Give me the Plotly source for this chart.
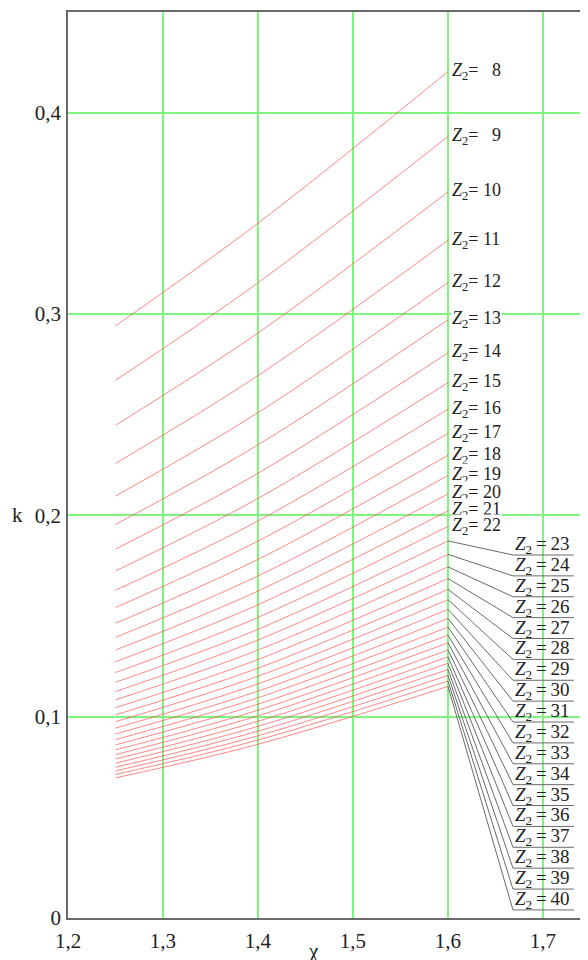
import plotly.graph_objects as go

# ---- data ----
z2 = [8, 9, 10, 11, 12, 13, 14, 15, 16, 17, 18, 19, 20, 21, 22, 23, 24,
      25, 26, 27, 28, 29, 30, 31, 32, 33, 34, 35, 36, 37, 38, 39, 40]
chi = [1.25, 1.4, 1.6]
k_at_125 = [0.2941, 0.2671, 0.2447, 0.2258, 0.2096, 0.1955, 0.1832, 0.1724,
            0.1628, 0.1542, 0.1464, 0.1394, 0.1331, 0.1273, 0.1219, 0.1171,
            0.1125, 0.1084, 0.1045, 0.1009, 0.0975, 0.0943, 0.0914, 0.0886,
            0.0860, 0.0835, 0.0812, 0.0790, 0.0769, 0.0749, 0.0731, 0.0713,
            0.0696]
k_at_140 = [0.3451, 0.3155, 0.2906, 0.2694, 0.2510, 0.2350, 0.2209, 0.2084,
            0.1972, 0.1872, 0.1781, 0.1699, 0.1624, 0.1556, 0.1493, 0.1434,
            0.1381, 0.1331, 0.1284, 0.1241, 0.1201, 0.1163, 0.1127, 0.1094,
            0.1062, 0.1032, 0.1004, 0.0977, 0.0952, 0.0928, 0.0905, 0.0884,
            0.0863]
k_at_160 = [0.4204, 0.3882, 0.3606, 0.3366, 0.3156, 0.2971, 0.2807, 0.2659,
            0.2527, 0.2407, 0.2298, 0.2198, 0.2106, 0.2022, 0.1945, 0.1873,
            0.1806, 0.1744, 0.1686, 0.1632, 0.1581, 0.1533, 0.1488, 0.1445,
            0.1405, 0.1367, 0.1331, 0.1297, 0.1265, 0.1234, 0.1205, 0.1177,
            0.1150]
x_tickvals = [1.2, 1.3, 1.4, 1.5, 1.6, 1.7]
x_ticktext = ["1,2", "1,3", "1,4", "1,5", "1,6", "1,7"]
y_tickvals = [0, 0.1, 0.2, 0.3, 0.4]
y_ticktext = ["0", "0,1", "0,2", "0,3", "0,4"]

# ---- styling / layout constants ----
SERIF = "Liberation Serif"
RED = "rgba(255,70,70,0.65)"
GREEN = "#7ff57f"
GREY = "#6a6a6a"
TXT = "#222"
FIRST_BOXED = 23          # from this Z2 on, labels sit in the boxed column
COL_X0, COL_X1 = 1.6684, 1.7326
COL_TOP, COL_STEP = 0.1803, 0.01037
THIN = "\u2009"

fig = go.Figure()

for i, z in enumerate(z2):
    ys = [k_at_125[i], k_at_140[i], k_at_160[i]]
    fig.add_trace(go.Scatter(
        x=chi, y=ys, mode="lines",
        line=dict(color=RED, width=1, shape="spline"),
        hoverinfo="skip", showlegend=False))

# white column behind the boxed labels (hides the grid there)
n_boxed = len([z for z in z2 if z >= FIRST_BOXED])
fig.add_shape(type="rect", xref="x", yref="y",
              x0=COL_X0, x1=COL_X1 + 0.004,
              y0=COL_TOP - (n_boxed - 1) * COL_STEP - 0.001, y1=COL_TOP + 0.011,
              fillcolor="white", line=dict(width=0), layer="below")

for i, z in enumerate(z2):
    end_k = k_at_160[i]
    if z < FIRST_BOXED:
        num = ("&nbsp;&nbsp;&nbsp;" + str(z)) if z < 10 else (" " + str(z))
        fig.add_annotation(
            x=chi[-1], y=end_k, xref="x", yref="y",
            text="<i>Z</i><sub>2</sub>=" + num,
            showarrow=False, xanchor="left", yanchor="middle", xshift=3,
            font=dict(family=SERIF, size=18, color=TXT),
            bgcolor="white", borderpad=0)
    else:
        j = z - FIRST_BOXED
        uy = COL_TOP - j * COL_STEP
        fig.add_trace(go.Scatter(
            x=[chi[-1], COL_X0, COL_X1], y=[end_k, uy, uy], mode="lines",
            line=dict(color=GREY, width=1), hoverinfo="skip", showlegend=False))
        fig.add_annotation(
            x=COL_X0, y=uy, xref="x", yref="y",
            text="<i>Z</i><sub>2</sub>" + THIN + "=" + THIN + str(z),
            showarrow=False, xanchor="left", yanchor="bottom", xshift=1, yshift=-3,
            font=dict(family=SERIF, size=19, color=TXT), borderpad=0)

# axis titles
fig.add_annotation(x=-0.098, xref="paper", y=0.2, yref="y", text="k",
                   showarrow=False, xanchor="center",
                   font=dict(family=SERIF, size=21, color=TXT))
fig.add_annotation(x=1.458, xref="x", y=-0.036, yref="paper", text="χ",
                   showarrow=False, yanchor="middle",
                   font=dict(family=SERIF, size=21, color=TXT))

fig.update_layout(
    width=580, height=952,
    margin=dict(l=60, r=0, t=4, b=42),
    paper_bgcolor="white", plot_bgcolor="white",
    separators=", ",
    font=dict(family=SERIF, size=21, color=TXT),
    xaxis=dict(range=[1.2, 1.7474], tickvals=x_tickvals, ticktext=x_ticktext,
               showgrid=True, gridcolor=GREEN, gridwidth=1.5, zeroline=False,
               showline=True, linecolor=GREY, linewidth=1.5, mirror=True,
               ticks="", ticklabelstandoff=3, fixedrange=True),
    yaxis=dict(range=[0, 0.45], tickvals=y_tickvals, ticktext=y_ticktext,
               showgrid=True, gridcolor=GREEN, gridwidth=1.5, zeroline=False,
               showline=True, linecolor=GREY, linewidth=1.5,
               ticks="", ticklabelstandoff=1, fixedrange=True),
)

fig.write_html("out.html", config={"displayModeBar": False})
